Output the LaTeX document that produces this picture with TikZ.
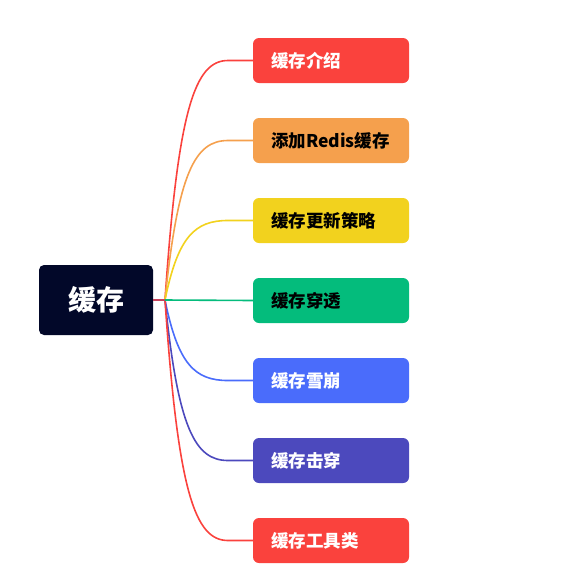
\documentclass[tikz,border=0pt]{standalone}
\usepackage{fontspec}
\setmainfont{Noto Sans CJK SC}
\definecolor{cred}{HTML}{FA423D}
\definecolor{corange}{HTML}{F5A04D}
\definecolor{cyellow}{HTML}{F2D21E}
\definecolor{cgreen}{HTML}{04BC7C}
\definecolor{cblue}{HTML}{4A6CFB}
\definecolor{cpurple}{HTML}{4C49BD}
\definecolor{croot}{HTML}{020829}
\definecolor{cstem}{HTML}{C8435C}
\tikzset{
  rootbox/.style={fill=croot, rounded corners=5pt, minimum width=114pt, minimum height=70pt, text=white, font=\fontsize{28}{32}\selectfont\bfseries, inner sep=0pt},
  childbox/.style={fill=#1, rounded corners=6pt, minimum width=156pt, minimum height=45pt, text width=138pt, align=left, inner sep=0pt, font=\fontsize{17.5}{21}\selectfont\bfseries},
  branch/.style={draw=#1, line width=1.6pt}
}
\begin{document}
\begin{tikzpicture}[x=1pt,y=-1pt]
\useasboundingbox (0,0) rectangle (583,579);
\node[rootbox] (root) at (96,300) {缓存};
\coordinate (hub) at (165,300);
\node[childbox=cred, text=white] (c1) at (331,60.5) {\hspace*{9pt}缓存介绍};
\node[childbox=corange, text=black] (c2) at (331,140.5) {\hspace*{9pt}添加Redis缓存};
\node[childbox=cyellow, text=black] (c3) at (331,220.5) {\hspace*{9pt}缓存更新策略};
\node[childbox=cgreen, text=black] (c4) at (331,300.5) {\hspace*{9pt}缓存穿透};
\node[childbox=cblue, text=white] (c5) at (331,380.5) {\hspace*{9pt}缓存雪崩};
\node[childbox=cpurple, text=white] (c6) at (331,460.5) {\hspace*{9pt}缓存击穿};
\node[childbox=cred, text=white] (c7) at (331,540.5) {\hspace*{9pt}缓存工具类};
\foreach \n/\y/\c in {c1/60.5/cred, c2/140.5/corange, c3/220.5/cyellow, c5/380.5/cblue, c6/460.5/cpurple, c7/540.5/cred}{
  \pgfmathsetmacro{\cy}{300+0.8*(\y-300)}
  \draw[branch=\c] (hub) .. controls (178,\cy) and (195,\y) .. (228,\y) -- (\n.west);
}
\draw[branch=cgreen] (hub) -- (c4.west);
\draw[branch=cstem] (root.east) -- (hub);
\end{tikzpicture}
\end{document}
